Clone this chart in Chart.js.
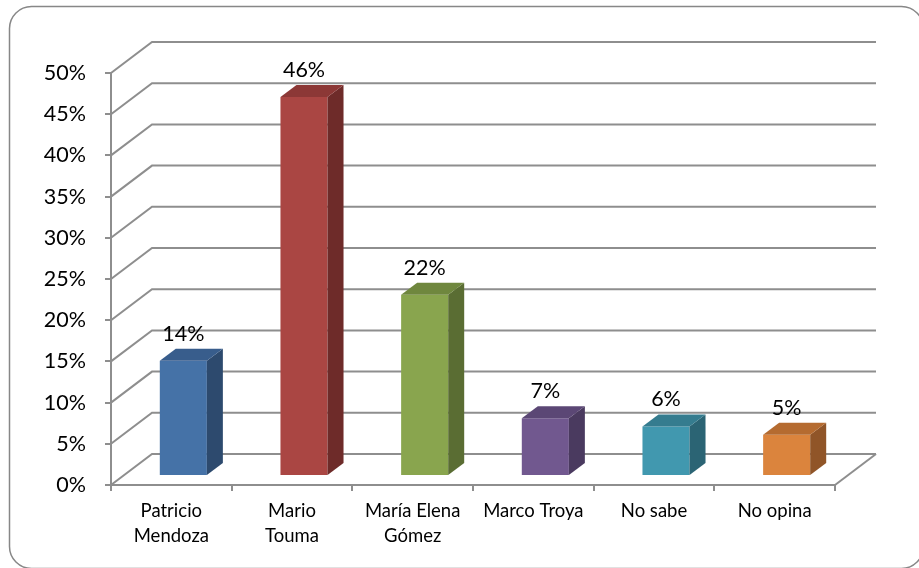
<!DOCTYPE html>
<html lang="es">
<head>
  <meta charset="UTF-8"/>
  <title>Intención de voto</title>
  <script src="https://cdn.jsdelivr.net/npm/chart.js"></script>
  <style>
    html, body { margin: 0; padding: 0; background: #ffffff; }
    #wrap { position: relative; width: 919px; height: 568px; }
  </style>
</head>
<body>
<div id="wrap">
  <canvas id="votoChart" width="919" height="568"></canvas>
</div>

<script>
// candidates / answers and their share of responses (%)
const categories = [['Patricio', 'Mendoza'], ['Mario', 'Touma'], ['María Elena', 'Gómez'], 'Marco Troya', 'No sabe', 'No opina'];
const shares = [14, 46, 22, 7, 6, 5];
const yMax = 50;
const yStep = 5;

// front, top and side shade for each column
const frontColors = ['#4572A7', '#AA4643', '#89A54E', '#71588F', '#4198AF', '#DB843D'];
const topColors   = ['#385D8C', '#8C3836', '#6F873E', '#5B4775', '#357C8F', '#B56B30'];
const sideColors  = ['#2D4A6E', '#6E2B29', '#5A6D33', '#4A3A5F', '#2B6474', '#905528'];

// oblique projection offsets (px)
const WALL = { dx: 41, dy: -31 };      // back wall behind the front axis
const SHIFT = { dx: 12, dy: -9 };      // columns sit a little inside the floor
const DEPTH = { dx: 16, dy: -12 };     // column thickness

const gridColor = '#8e8e8e';
const font = 'Lato, "Open Sans", sans-serif';

const frame = {
  id: 'frame',
  beforeDraw(chart) {
    const ctx = chart.ctx;
    ctx.save();
    ctx.fillStyle = '#ffffff';
    ctx.fillRect(0, 0, chart.width, chart.height);
    ctx.strokeStyle = '#878787';
    ctx.lineWidth = 1.5;
    ctx.beginPath();
    ctx.roundRect(9.5, 6.5, 914, 562, 22);
    ctx.stroke();
    ctx.restore();
  }
};

const box3d = {
  id: 'box3d',
  beforeDatasetsDraw(chart) {
    const { ctx, chartArea: a, scales } = chart;
    const y = scales.y;
    ctx.save();
    ctx.strokeStyle = gridColor;
    ctx.lineWidth = 2;
    y.ticks.forEach(t => {
      const py = y.getPixelForValue(t.value);
      ctx.beginPath();
      ctx.moveTo(a.left, py);
      ctx.lineTo(a.left + WALL.dx, py + WALL.dy);
      ctx.lineTo(a.right + WALL.dx, py + WALL.dy);
      ctx.stroke();
    });
    // right edge of the floor
    ctx.beginPath();
    ctx.moveTo(a.right, a.bottom);
    ctx.lineTo(a.right + WALL.dx, a.bottom + WALL.dy);
    ctx.stroke();
    ctx.restore();

    // columns are drawn in the shifted plane
    ctx.save();
    ctx.translate(SHIFT.dx, SHIFT.dy);
  },
  afterDatasetsDraw(chart) {
    const ctx = chart.ctx;
    const meta = chart.getDatasetMeta(0);
    meta.data.forEach((bar, i) => {
      const { x, y, base, width } = bar.getProps(['x', 'y', 'base', 'width'], true);
      const l = x - width / 2, r = x + width / 2;
      // side face
      ctx.fillStyle = sideColors[i];
      ctx.beginPath();
      ctx.moveTo(r, y);
      ctx.lineTo(r + DEPTH.dx, y + DEPTH.dy);
      ctx.lineTo(r + DEPTH.dx, base + DEPTH.dy);
      ctx.lineTo(r, base);
      ctx.closePath();
      ctx.fill();
      // top face
      ctx.fillStyle = topColors[i];
      ctx.beginPath();
      ctx.moveTo(l, y);
      ctx.lineTo(l + DEPTH.dx, y + DEPTH.dy);
      ctx.lineTo(r + DEPTH.dx, y + DEPTH.dy);
      ctx.lineTo(r, y);
      ctx.closePath();
      ctx.fill();
      // value label
      ctx.fillStyle = '#000000';
      ctx.font = '21.5px ' + font;
      ctx.textAlign = 'center';
      ctx.textBaseline = 'middle';
      ctx.fillText(shares[i] + '%', x, y - 27);
    });
    ctx.restore();
  }
};

new Chart(document.getElementById('votoChart'), {
  type: 'bar',
  data: {
    labels: categories,
    datasets: [{
      data: shares,
      backgroundColor: frontColors,
      borderWidth: 0,
      categoryPercentage: 1,
      barPercentage: 0.39
    }]
  },
  options: {
    responsive: false,
    animation: false,
    events: [],
    layout: { padding: { left: 0, top: 73, right: 84, bottom: 0 } },
    plugins: {
      legend: { display: false },
      tooltip: { enabled: false }
    },
    scales: {
      x: {
        offset: true,
        afterFit: s => { s.height = 83; },
        grid: { offset: true, drawOnChartArea: false, color: gridColor, lineWidth: 2, tickLength: 6 },
        border: { color: gridColor, width: 2 },
        ticks: {
          color: '#000000',
          padding: 8,
          maxRotation: 0,
          font: { family: font, size: 18.5, lineHeight: 1.35 }
        }
      },
      y: {
        min: 0,
        max: yMax,
        afterFit: s => { s.width = 111; },
        grid: { drawOnChartArea: false, color: gridColor, lineWidth: 2, tickLength: 6 },
        border: { color: gridColor, width: 2 },
        ticks: {
          stepSize: yStep,
          color: '#000000',
          padding: 19,
          font: { family: font, size: 21.5 },
          callback: v => v + '%'
        }
      }
    }
  },
  plugins: [frame, box3d]
});
</script>
</body>
</html>
